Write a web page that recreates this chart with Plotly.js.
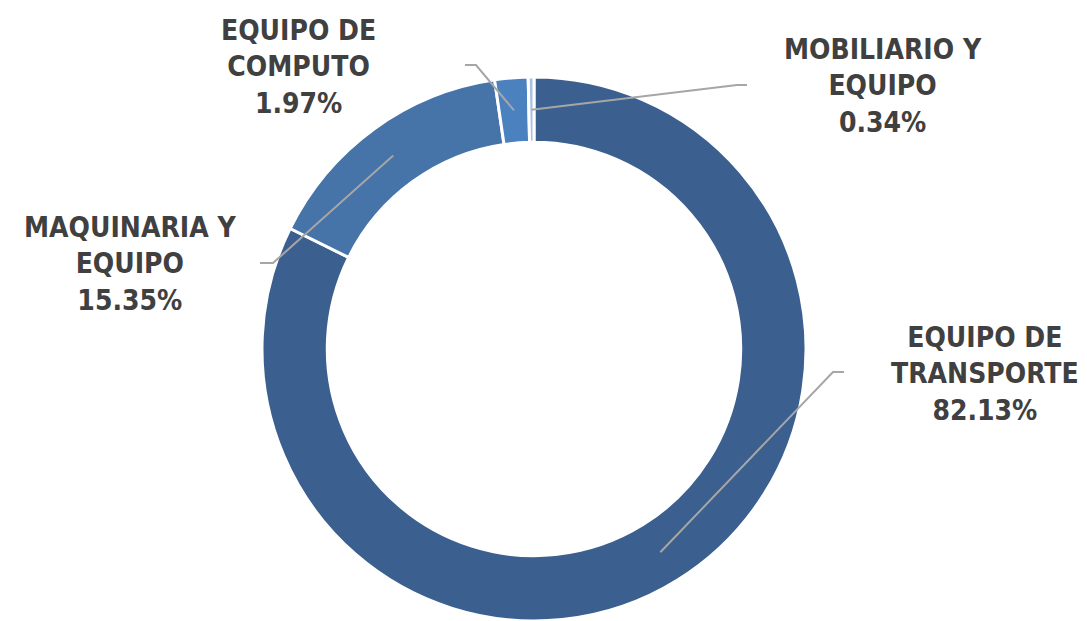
<!DOCTYPE html>
<html>
<head>
<meta charset="utf-8">
<script src="https://cdn.plot.ly/plotly-3.0.1.min.js"></script>
<style>html,body{margin:0;padding:0;background:#fff;}#chart{width:1087px;height:621px;}</style>
</head>
<body>
<div id="chart"></div>
<script>
// ---- data ----
const categories = ["EQUIPO DE TRANSPORTE", "MAQUINARIA Y EQUIPO", "EQUIPO DE COMPUTO", "MOBILIARIO Y EQUIPO"];
const labelLines = [["EQUIPO DE", "TRANSPORTE"], ["MAQUINARIA Y", "EQUIPO"], ["EQUIPO DE", "COMPUTO"], ["MOBILIARIO Y", "EQUIPO"]];
const values = [82.13, 15.35, 1.97, 0.34];
const colors = ["#3B5F8E", "#4673A8", "#4C81C0", "#A9C1E2"];

// ---- layout config (pixels) ----
const W = 1087, H = 621;
const cx = 534, cy = 349, R = 272, holeFrac = 0.76;
// label centre positions and leader-line elbows/ends (pixels)
const labelPos = [[985, 374], [130, 264], [298, 67], [883, 86]];
const elbows = [[833, 372], [273, 263], [476, 65], [737, 85]];
const ends = [[844, 372], [260, 263], [465, 65], [747, 85]];

const px = x => x / W;
const py = y => 1 - y / H;

const total = values.reduce((a, b) => a + b, 0);
let cum = 0;
const shapes = [], annotations = [];
values.forEach((v, i) => {
  const mid = (cum + v / 2) / total * 2 * Math.PI;
  cum += v;
  const rMid = R * (1 + holeFrac) / 2;
  const sx = cx + rMid * Math.sin(mid), sy = cy - rMid * Math.cos(mid);
  shapes.push({
    type: 'path', xref: 'paper', yref: 'paper',
    path: `M ${px(sx)} ${py(sy)} L ${px(elbows[i][0])} ${py(elbows[i][1])} L ${px(ends[i][0])} ${py(ends[i][1])}`,
    line: {color: '#A6A6A6', width: 2}
  });
  annotations.push({
    xref: 'paper', yref: 'paper', x: px(labelPos[i][0]), y: py(labelPos[i][1]),
    xanchor: 'center', yanchor: 'middle', showarrow: false, align: 'center',
    text: labelLines[i].join('<br>') + '<br>' + v.toFixed(2) + '%',
    font: {family: '"DejaVu Sans Condensed", "DejaVu Sans", sans-serif', size: 28, color: '#404040', weight: 'bold'}
  });
});

const trace = {
  type: 'pie', labels: categories, values: values, hole: holeFrac,
  sort: false, direction: 'clockwise', rotation: 0,
  textinfo: 'none', hoverinfo: 'label+percent',
  marker: {colors: colors, line: {color: '#FFFFFF', width: 3}},
  domain: {x: [px(cx - R), px(cx + R)], y: [py(cy + R), py(cy - R)]}
};

const layout = {
  width: W, height: H, margin: {l: 0, r: 0, t: 0, b: 0},
  paper_bgcolor: '#FFFFFF', showlegend: false,
  shapes: shapes, annotations: annotations
};
Plotly.newPlot('chart', [trace], layout, {displayModeBar: false, staticPlot: true});
</script>
</body>
</html>
